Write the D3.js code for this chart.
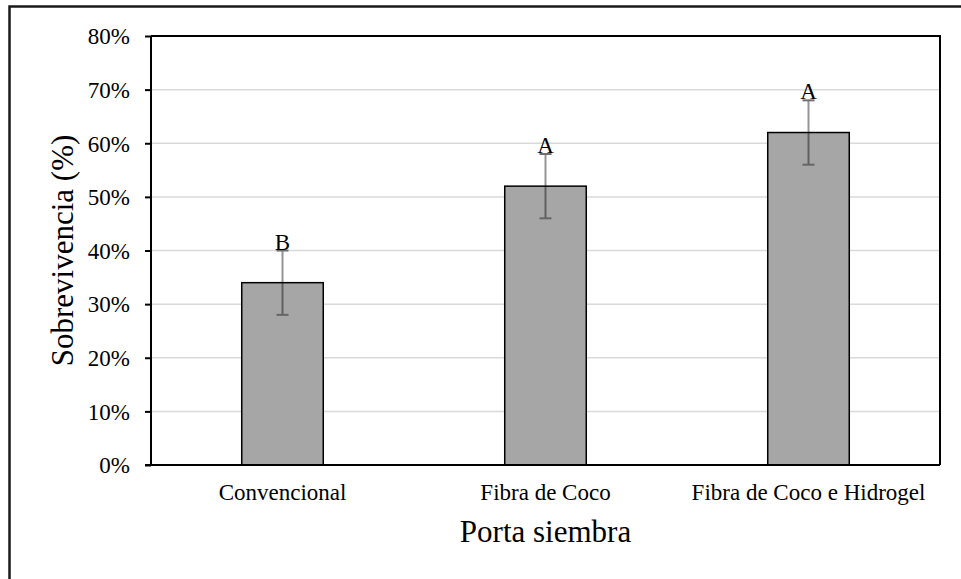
<!DOCTYPE html>
<html>
<head>
<meta charset="utf-8">
<script src="https://cdn.jsdelivr.net/npm/d3@7/dist/d3.min.js"></script>
<style>
  html, body { margin: 0; padding: 0; background: #fff; }
  svg { display: block; }
  text { font-family: "Liberation Serif", "Times New Roman", serif; fill: #000; }
</style>
</head>
<body>
<svg id="chart" width="961" height="579"></svg>
<script>
// ---- data ----
const categories = ["Convencional", "Fibra de Coco", "Fibra de Coco e Hidrogel"];
const values = [0.34, 0.52, 0.62];
const errors = [0.06, 0.06, 0.06];
const letters = ["B", "A", "A"];
const yTicks = [0, 0.1, 0.2, 0.3, 0.4, 0.5, 0.6, 0.7, 0.8];
const yTitle = "Sobrevivencia (%)";
const xTitle = "Porta siembra";

const W = 961, H = 579;
const plot = { left: 151, right: 940, top: 36, bottom: 465 };

const svg = d3.select("#chart");

// outer frame
svg.append("rect")
  .attr("x", 9.5).attr("y", 6.5)
  .attr("width", 1000).attr("height", 1000)
  .attr("fill", "none").attr("stroke", "#1a1a1a").attr("stroke-width", 2.5);

const x = d3.scaleBand().domain(categories).range([plot.left, plot.right]).paddingInner(0.69).paddingOuter(0.345);
const y = d3.scaleLinear().domain([0, 0.8]).range([plot.bottom, plot.top]);

// gridlines
svg.append("g").selectAll("line")
  .data(yTicks.filter(t => t > 0 && t < 0.8))
  .join("line")
  .attr("x1", plot.left).attr("x2", plot.right)
  .attr("y1", d => y(d)).attr("y2", d => y(d))
  .attr("stroke", "#d9d9d9").attr("stroke-width", 1.5);

// plot border (top and right)
svg.append("path")
  .attr("d", `M${plot.left},${y(0.8)}H${plot.right}V${plot.bottom}`)
  .attr("fill", "none").attr("stroke", "#000").attr("stroke-width", 2);

// bars
svg.append("g").selectAll("rect")
  .data(categories)
  .join("rect")
  .attr("x", d => x(d))
  .attr("width", x.bandwidth())
  .attr("y", (d, i) => y(values[i]))
  .attr("height", (d, i) => y(0) - y(values[i]))
  .attr("fill", "#a6a6a6").attr("stroke", "#000").attr("stroke-width", 1.5);

// error bars
const eg = svg.append("g").attr("stroke", "rgba(0,0,0,0.42)").attr("stroke-width", 2);
categories.forEach((c, i) => {
  const cx = x(c) + x.bandwidth() / 2;
  const hi = y(values[i] + errors[i]), lo = y(values[i] - errors[i]);
  eg.append("line").attr("x1", cx).attr("x2", cx).attr("y1", hi).attr("y2", lo);
  eg.append("line").attr("x1", cx - 6).attr("x2", cx + 6).attr("y1", hi).attr("y2", hi).attr("stroke", "#6e6e6e");
  eg.append("line").attr("x1", cx - 6).attr("x2", cx + 6).attr("y1", lo).attr("y2", lo).attr("stroke", "#666");
});

// letters
svg.append("g").selectAll("text")
  .data(categories)
  .join("text")
  .attr("x", d => x(d) + x.bandwidth() / 2)
  .attr("y", (d, i) => y(values[i] + errors[i]) - 1)
  .attr("text-anchor", "middle")
  .attr("font-size", 23)
  .text((d, i) => letters[i]);

// y axis
const yAxis = d3.axisLeft(y).tickValues(yTicks).tickFormat(d3.format(".0%")).tickSize(6).tickPadding(15);
const gy = svg.append("g").attr("transform", `translate(${plot.left},0)`).call(yAxis);
gy.select(".domain").attr("stroke", "#000").attr("stroke-width", 2).attr("d", `M0,${plot.top}V${plot.bottom}`);
gy.selectAll(".tick line").attr("stroke", "#000").attr("stroke-width", 2);
gy.selectAll(".tick text").attr("font-size", 23).attr("font-family", "Liberation Serif").attr("dy", "0.34em");

// x axis
const xAxis = d3.axisBottom(x).tickSize(0).tickPadding(19);
const gx = svg.append("g").attr("transform", `translate(0,${plot.bottom})`).call(xAxis);
gx.select(".domain").attr("stroke", "#000").attr("stroke-width", 2).attr("d", `M${plot.left - 6},0H${plot.right}`);
gx.selectAll(".tick text").attr("font-size", 23).attr("font-family", "Liberation Serif").attr("dy", "0.71em");

// titles
svg.append("text").attr("x", (plot.left + plot.right) / 2).attr("y", 542)
  .attr("text-anchor", "middle").attr("font-size", 31).text(xTitle);
svg.append("text").attr("transform", `translate(73,${(plot.top + plot.bottom) / 2}) rotate(-90)`)
  .attr("text-anchor", "middle").attr("font-size", 31).text(yTitle);
</script>
</body>
</html>
